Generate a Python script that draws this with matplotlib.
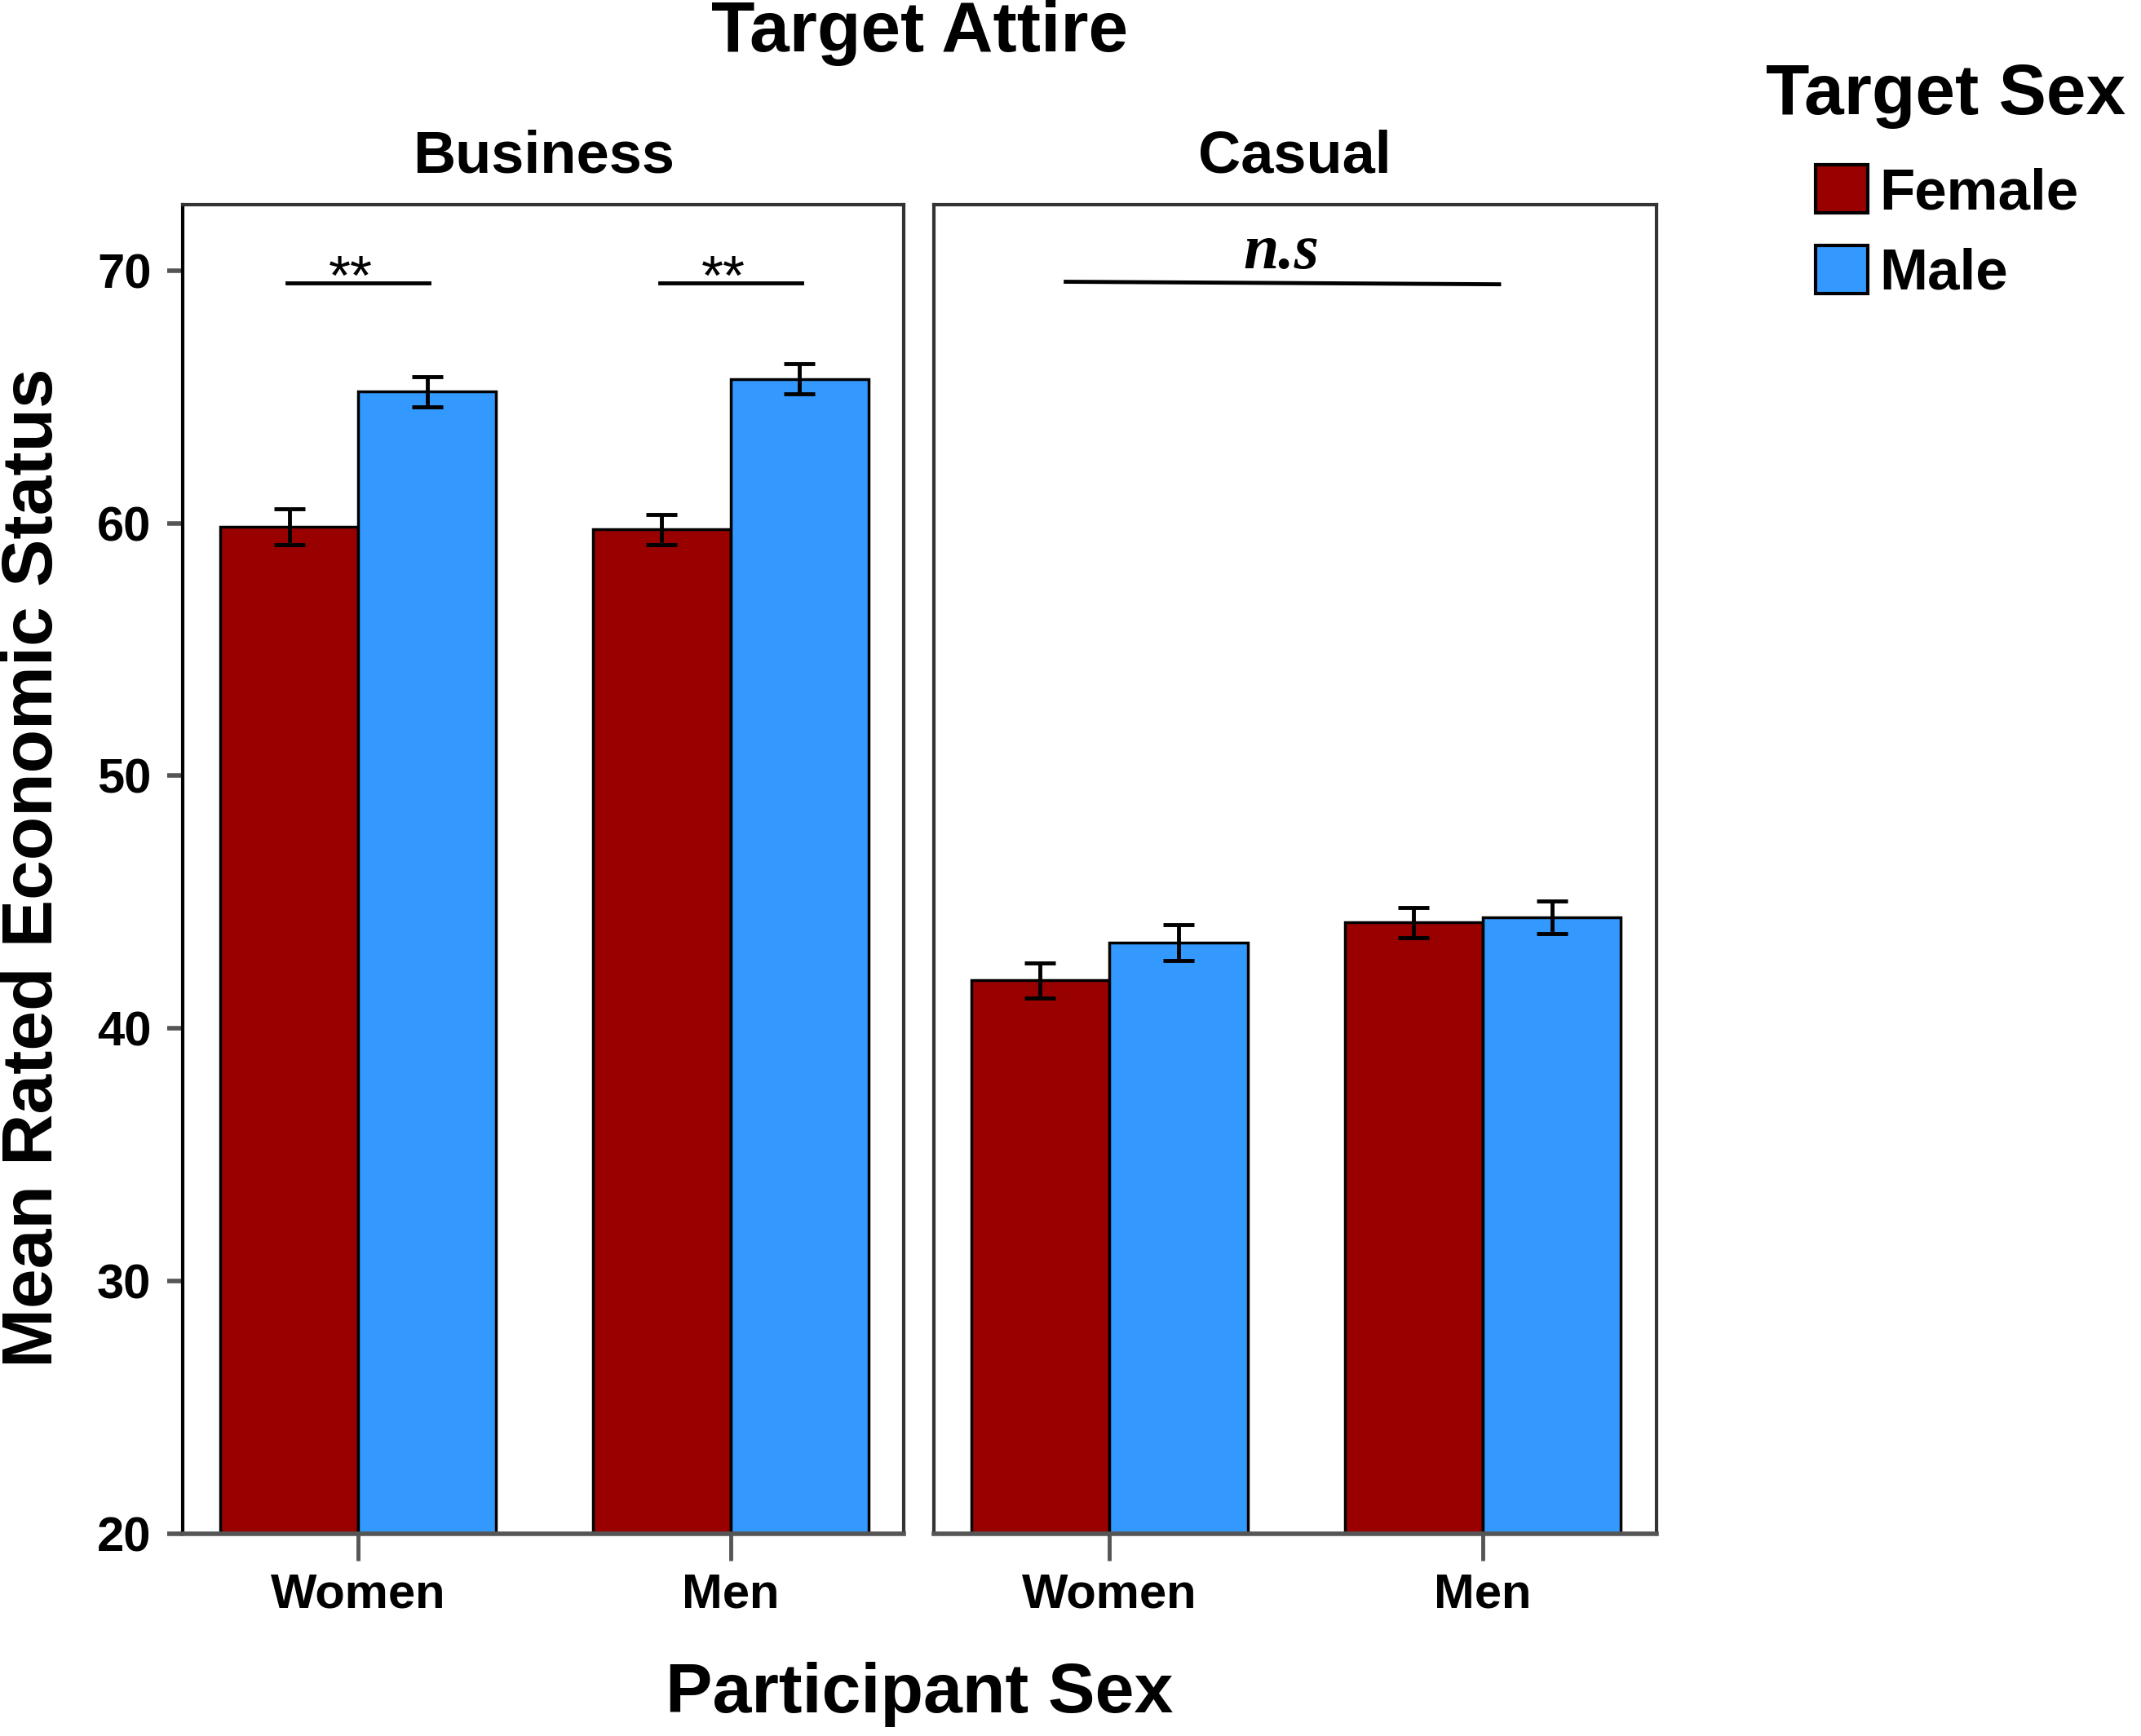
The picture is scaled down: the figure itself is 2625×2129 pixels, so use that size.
import matplotlib.pyplot as plt
from matplotlib.patches import Patch
import numpy as np

# values
attire = ['Business', 'Casual']
participants = ['Women', 'Men']
target_sex = ['Female', 'Male']

business_female = [59.85, 59.75]
business_male = [65.2, 65.7]
casual_female = [41.9, 44.2]
casual_male = [43.4, 44.4]

business_female_err = [0.7, 0.6]
business_male_err = [0.6, 0.6]
casual_female_err = [0.7, 0.6]
casual_male_err = [0.7, 0.65]

# significance markers
business_sig = ['**', '**']
casual_sig = 'n.s'
sig_level = 69.5

female_color = '#990000'
male_color = '#3399FF'
frame_color = '#333333'
tick_color = '#555555'

sans = ['Liberation Sans', 'DejaVu Sans']

fig = plt.figure(figsize=(26.25, 21.29), dpi=100)
ax0 = fig.add_axes([0.0855, 0.1164, 0.3367, 0.7657])
ax1 = fig.add_axes([0.4362, 0.1164, 0.3374, 0.7657])

x = np.arange(len(participants))
w = 0.37

panels = [(ax0, business_female, business_male, business_female_err, business_male_err),
          (ax1, casual_female, casual_male, casual_female_err, casual_male_err)]

for ax, fem, mal, fem_err, mal_err in panels:
    ax.bar(x - w / 2, fem, width=w, bottom=0, color=female_color, edgecolor='black', linewidth=2.5, zorder=2)
    ax.bar(x + w / 2, mal, width=w, bottom=0, color=male_color, edgecolor='black', linewidth=2.5, zorder=2)
    ax.errorbar(x - w / 2, fem, yerr=fem_err, fmt='none', ecolor='black', elinewidth=3.5, capsize=14, capthick=3.5, zorder=3)
    ax.errorbar(x + w / 2, mal, yerr=mal_err, fmt='none', ecolor='black', elinewidth=3.5, capsize=14, capthick=3.5, zorder=3)
    ax.set_xlim(-0.47, 1.465)
    ax.set_ylim(20, 72.6)
    ax.set_xticks(x)
    ax.set_xticklabels(participants, fontfamily=sans, fontweight='bold', fontsize=43)
    ax.tick_params(axis='x', length=24, width=3.5, color=tick_color, pad=10)
    for s in ax.spines.values():
        s.set_color(frame_color)
        s.set_linewidth(3)
    ax.spines['bottom'].set_color(tick_color)
    ax.spines['bottom'].set_linewidth(4)

ax0.set_yticks([20, 30, 40, 50, 60, 70])
ax0.set_yticklabels(['20', '30', '40', '50', '60', '70'], fontfamily=sans, fontweight='bold', fontsize=43)
ax0.tick_params(axis='y', length=14, width=4, color=tick_color, pad=14)
ax0.spines['left'].set_color('black')
ax1.set_yticks([])

ax0.text(0.5, 1.036, attire[0], transform=ax0.transAxes, ha='center', va='center',
         fontfamily=sans, fontweight='bold', fontsize=52)
ax1.text(0.5, 1.036, attire[1], transform=ax1.transAxes, ha='center', va='center',
         fontfamily=sans, fontweight='bold', fontsize=52)

# significance lines
for i, lab in enumerate(business_sig):
    ax0.plot([x[i] - 0.19, x[i] + 0.19], [sig_level, sig_level], color='black', linewidth=3.5)
    ax0.text(x[i] - 0.02, sig_level - 0.45, lab, ha='center', va='baseline',
             fontfamily=sans, fontsize=50)
ax1.plot([-0.117, 1.044], [sig_level + 0.05, sig_level - 0.05], color='black', linewidth=3.5)
ax1.text(0.46, sig_level + 0.05, casual_sig, ha='center', va='bottom', fontfamily='Liberation Serif',
         fontstyle='italic', fontweight='bold', fontsize=56)

fig.text(0.4295, 0.981, 'Target Attire', ha='center', va='center', fontfamily=sans, fontweight='bold', fontsize=63)
fig.text(0.4295, 0.024, 'Participant Sex', ha='center', va='center', fontfamily=sans, fontweight='bold', fontsize=62)
fig.text(0.016, 0.5, 'Mean Rated Economic Status', ha='center', va='center', rotation=90,
         fontfamily=sans, fontweight='bold', fontsize=63)

# legend
fig.text(0.8246, 0.945, 'Target Sex', ha='left', va='center', fontfamily=sans, fontweight='bold', fontsize=63)
handles = [Patch(facecolor=female_color, edgecolor='black', linewidth=3),
           Patch(facecolor=male_color, edgecolor='black', linewidth=3)]
leg = fig.legend(handles, target_sex, loc='upper left', bbox_to_anchor=(0.848, 0.905), frameon=False,
                 handlelength=0.9, handleheight=0.9, handletextpad=0.2, labelspacing=0.42,
                 borderpad=0, borderaxespad=0,
                 prop={'family': sans, 'weight': 'bold', 'size': 51})

plt.savefig('out.png', dpi=100)
